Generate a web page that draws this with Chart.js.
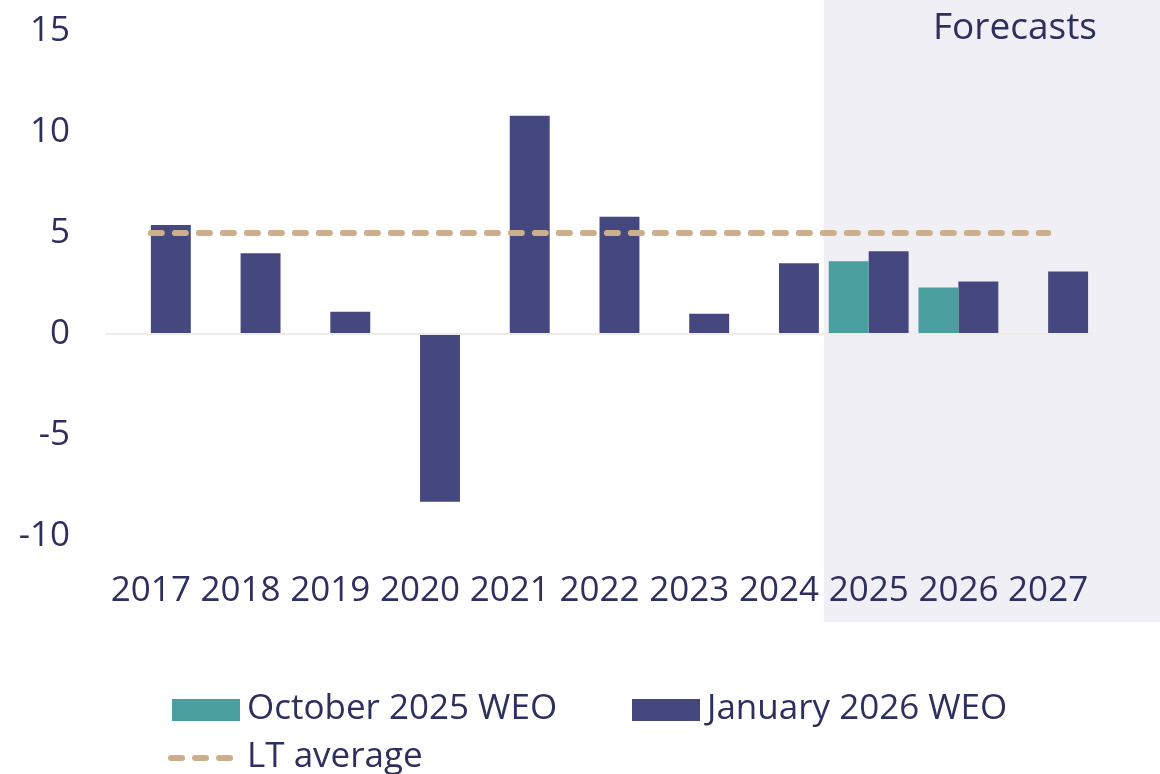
<!DOCTYPE html>
<html>
<head>
<meta charset="utf-8">
<script src="https://cdn.jsdelivr.net/npm/chart.js@4.4.1/dist/chart.umd.min.js"></script>
<style>
  html, body { margin: 0; padding: 0; background: #fff; }
</style>
</head>
<body>
<canvas id="myChart" width="1160" height="774"></canvas>
<script>

// Years along the x-axis

var years = ['2017', '2018', '2019', '2020', '2021', '2022', '2023', '2024', '2025', '2026', '2027'];

// Real GDP growth, %, for the two forecast vintages

var octWEO = [null, null, null, null, null, null, null, null, 3.6, 2.3, null];

var janWEO = [5.4, 4.0, 1.1, -8.3, 10.8, 5.8, 1.0, 3.5, 4.1, 2.6, 3.1];

// Long-term average growth

var ltAverage = 5.0;

// Value axis ticks

var yTicks = [-10, -5, 0, 5, 10, 15];

var firstForecast = '2025';

var navy = '#2d2f5e';
var teal = '#4a9e9e';
var indigo = '#45487f';
var sand = '#cdae8a';
var FONT = '"Open Sans", sans-serif';

// Shaded forecast period with its caption
var forecastPlugin = {
  id: 'forecastShade',
  beforeDraw: function (chart) {
    var ctx = chart.ctx;
    var x = chart.scales.x;
    var step = x.getPixelForValue(1) - x.getPixelForValue(0);
    var left = x.getPixelForValue(years.indexOf(firstForecast)) - step / 2;
    ctx.save();
    ctx.fillStyle = '#f0eff5';
    ctx.fillRect(left, 0, chart.width - left, chart.chartArea.bottom + 86);
    ctx.fillStyle = navy;
    ctx.font = '37px ' + FONT;
    ctx.textAlign = 'right';
    ctx.textBaseline = 'middle';
    ctx.fillText('Forecasts', 1097, 28);
    ctx.restore();
  }
};

// Legend laid out as a two-column grid under the chart
var legendPlugin = {
  id: 'gridLegend',
  afterDraw: function (chart) {
    var ctx = chart.ctx;
    var ds = chart.data.datasets;
    var items = [
      { d: ds[1], x: 172, y: 710 },
      { d: ds[2], x: 632, y: 710 },
      { d: ds[0], x: 172, y: 758 }
    ];
    ctx.save();
    ctx.font = '35px ' + FONT;
    ctx.textBaseline = 'middle';
    ctx.textAlign = 'left';
    items.forEach(function (it) {
      if (it.d.type === 'line') {
        ctx.strokeStyle = it.d.borderColor;
        ctx.lineWidth = it.d.borderWidth;
        ctx.lineCap = 'round';
        ctx.setLineDash(it.d.borderDash);
        ctx.beginPath();
        ctx.moveTo(it.x - 1, it.y);
        ctx.lineTo(it.x + 59, it.y);
        ctx.stroke();
        ctx.setLineDash([]);
      } else {
        ctx.fillStyle = it.d.backgroundColor;
        ctx.fillRect(it.x, it.y - 11, 68, 22);
      }
      ctx.fillStyle = navy;
      ctx.fillText(it.d.label, it.x + 75, it.y - 1);
    });
    ctx.restore();
  }
};

var ctx = document.getElementById('myChart');
var myChart = new Chart(ctx, {
  type: 'bar',
  data: {
    labels: years,
    datasets: [
      {
        type: 'line',
        label: 'LT average',
        data: years.map(function () { return ltAverage; }),
        borderColor: sand,
        borderWidth: 6,
        borderDash: [11, 13],
        borderCapStyle: 'round',
        pointRadius: 0,
        fill: false,
        order: 0
      },
      {
        label: 'October 2025 WEO',
        data: octWEO,
        backgroundColor: teal,
        order: 1
      },
      {
        label: 'January 2026 WEO',
        data: janWEO,
        backgroundColor: indigo,
        order: 1
      }
    ]
  },
  options: {
    responsive: false,
    animation: false,
    devicePixelRatio: 1,
    layout: { padding: { top: 31, right: 67, bottom: 152, left: 0 } },
    datasets: {
      bar: { categoryPercentage: 0.89, barPercentage: 1 }
    },
    plugins: {
      legend: { display: false },
      tooltip: { enabled: false }
    },
    scales: {
      x: {
        offset: true,
        grid: { display: false },
        border: { display: false },
        ticks: {
          color: navy,
          font: { family: FONT, size: 35 },
          padding: 26,
          maxRotation: 0,
          autoSkip: false
        },
        afterFit: function (s) { s.height = 86; }
      },
      y: {
        min: yTicks[0],
        max: yTicks[yTicks.length - 1],
        afterBuildTicks: function (s) {
          s.ticks = yTicks.map(function (v) { return { value: v }; });
        },
        grid: {
          drawTicks: false,
          lineWidth: 2,
          color: function (c) { return c.tick && c.tick.value === 0 ? '#efebe6' : 'rgba(0,0,0,0)'; }
        },
        border: { display: false },
        ticks: {
          color: navy,
          font: { family: FONT, size: 35 },
          padding: 36
        },
        // the outer layout padding already leaves room for the end labels
        afterFit: function (s) {
          s.width = 106;
          s.paddingTop = 0;
          s.paddingBottom = 0;
        }
      }
    }
  },
  plugins: [forecastPlugin, legendPlugin]
});
</script>
</body>
</html>
